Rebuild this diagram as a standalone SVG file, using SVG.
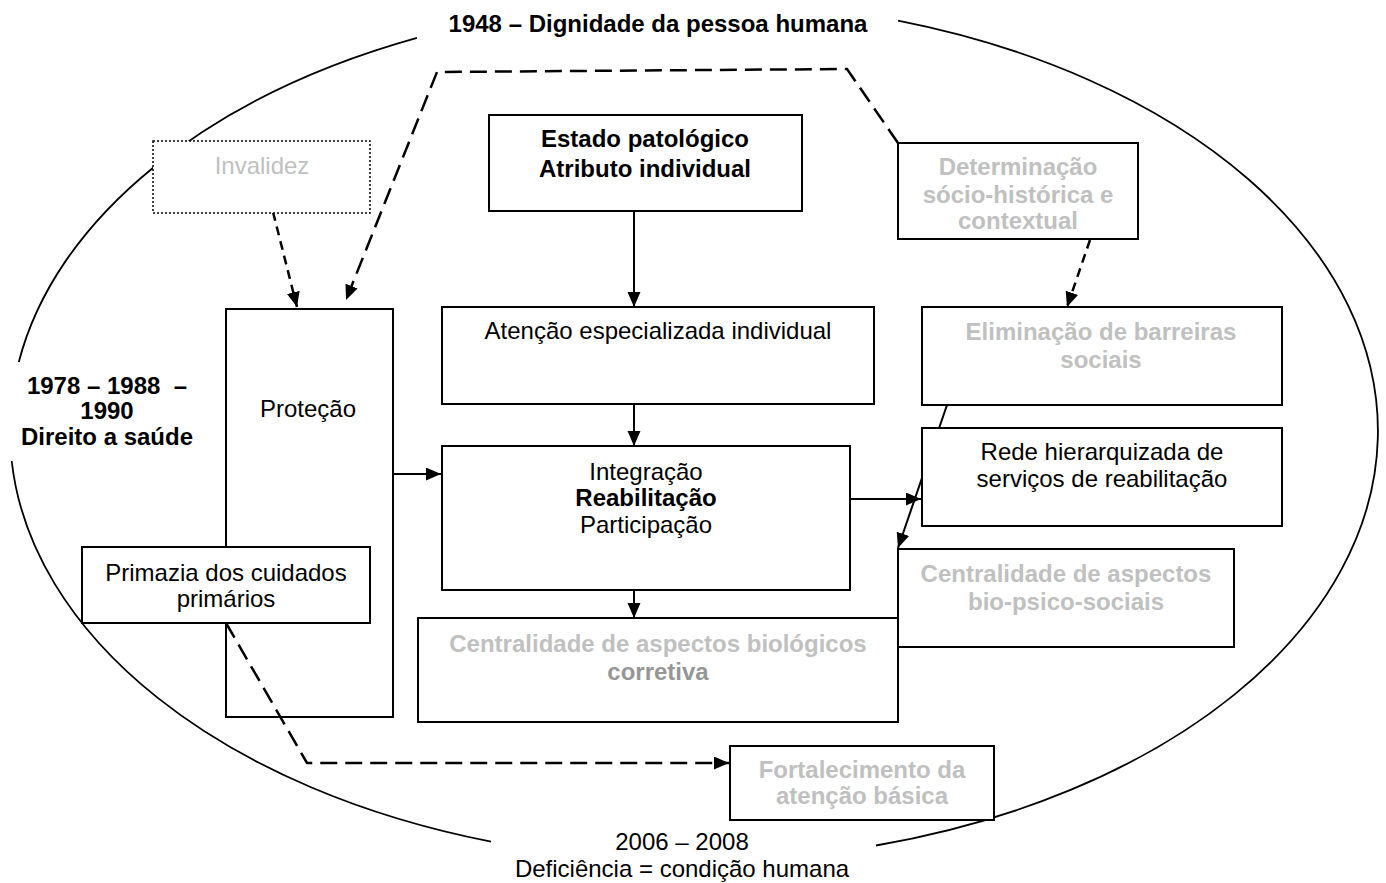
<svg xmlns="http://www.w3.org/2000/svg" width="1386" height="883" viewBox="0 0 1386 883">
<style>
text{font-family:"Liberation Sans",Arial,sans-serif;font-size:24px;text-anchor:middle;fill:#000}
.b{font-weight:bold}
.g{fill:#c0c0c0;font-weight:bold}
.box{fill:#fff;stroke:#000;stroke-width:2}
.ell{fill:none;stroke:#000;stroke-width:1.8}
.ln{fill:none;stroke:#000;stroke-width:2}
.dl{fill:none;stroke:#000;stroke-width:2.5;stroke-dasharray:17 8}
.ds{fill:none;stroke:#000;stroke-width:2.5;stroke-dasharray:9 6}
</style>
<defs>
<marker id="ah" markerUnits="userSpaceOnUse" markerWidth="16" markerHeight="14" refX="15" refY="6.5" orient="auto">
<path d="M0,0 L15,6.5 L0,13 z" fill="#000"/>
</marker>
</defs>
<g id="frame">
<path class="ell" d="M898,20.6 A684,430 0 0 1 876,845.5"/>
<path class="ell" d="M491,841.6 A684,430 0 0 1 11.7,461"/>
<path class="ell" d="M18.8,362 A684,430 0 0 1 417,37.8"/>
<text class="b" x="658" y="32">1948 – Dignidade da pessoa humana</text>
<text class="b" x="107" y="394" style="white-space:pre">1978 – 1988  –</text>
<text class="b" x="107" y="419">1990</text>
<text class="b" x="107" y="445">Direito a saúde</text>
<text x="682" y="850">2006 – 2008</text>
<text x="682" y="877">Deficiência = condição humana</text>
</g>
<g id="connectors">
<polyline class="dl" points="898,143 847,69 437,72 346,300" marker-end="url(#ah)"/>
<line class="ds" x1="273" y1="212" x2="297" y2="307" marker-end="url(#ah)"/>
<line class="ds" x1="1090" y1="240" x2="1067" y2="307" marker-end="url(#ah)"/>
<line class="ln" x1="634" y1="212" x2="634" y2="307" marker-end="url(#ah)"/>
<line class="ln" x1="634" y1="404" x2="634" y2="446" marker-end="url(#ah)"/>
<line class="ln" x1="634" y1="590" x2="634" y2="618" marker-end="url(#ah)"/>
<line class="ln" x1="393" y1="474" x2="441" y2="474" marker-end="url(#ah)"/>
<line class="ln" x1="850" y1="499" x2="921" y2="499" marker-end="url(#ah)"/>
<line class="ln" x1="947" y1="405" x2="898" y2="548" marker-end="url(#ah)"/>
<polyline class="dl" points="226,623 307,763 729,763" marker-end="url(#ah)"/>
</g>
<g id="n-invalidez">
<rect x="153" y="141" width="217" height="72" fill="#fff" stroke="#000" stroke-width="1.5" stroke-dasharray="2 2"/>
<text x="262" y="174" fill="#c0c0c0" style="fill:#c0c0c0">Invalidez</text>
</g>
<g id="n-protecao">
<rect x="226" y="309" width="167" height="408" fill="none" stroke="#000" stroke-width="2"/>
<text x="308" y="417">Proteção</text>
</g>
<g id="n-primazia">
<rect class="box" x="82" y="547" width="288" height="76"/>
<text x="226" y="581">Primazia dos cuidados</text>
<text x="226" y="607">primários</text>
</g>
<g id="n-estado">
<rect class="box" x="489" y="115" width="313" height="96"/>
<text class="b" x="645" y="147">Estado patológico</text>
<text class="b" x="645" y="177">Atributo individual</text>
</g>
<g id="n-atencao">
<rect class="box" x="442" y="307" width="432" height="97"/>
<text x="658" y="339">Atenção especializada individual</text>
</g>
<g id="n-integracao">
<rect class="box" x="442" y="446" width="408" height="144"/>
<text x="646" y="480">Integração</text>
<text class="b" x="646" y="506">Reabilitação</text>
<text x="646" y="533">Participação</text>
</g>
<g id="n-biologicos">
<rect class="box" x="418" y="618" width="480" height="104"/>
<text class="g" x="658" y="652">Centralidade de aspectos biológicos</text>
<text class="b" x="658" y="680" style="fill:#969696">corretiva</text>
</g>
<g id="n-determinacao">
<rect class="box" x="898" y="143" width="240" height="96"/>
<text class="g" x="1018" y="175">Determinação</text>
<text class="g" x="1018" y="203">sócio-histórica e</text>
<text class="g" x="1018" y="229">contextual</text>
</g>
<g id="n-eliminacao">
<rect class="box" x="922" y="307" width="360" height="98"/>
<text class="g" x="1101" y="340">Eliminação de barreiras</text>
<text class="g" x="1101" y="368">sociais</text>
</g>
<g id="n-rede">
<rect class="box" x="922" y="428" width="360" height="98"/>
<text x="1102" y="460">Rede hierarquizada de</text>
<text x="1102" y="487">serviços de reabilitação</text>
</g>
<g id="n-biopsico">
<rect class="box" x="898" y="549" width="336" height="98"/>
<text class="g" x="1066" y="582">Centralidade de aspectos</text>
<text class="g" x="1066" y="610">bio-psico-sociais</text>
</g>
<g id="n-fortalecimento">
<rect class="box" x="730" y="746" width="264" height="74"/>
<text class="g" x="862" y="778">Fortalecimento da</text>
<text class="g" x="862" y="804">atenção básica</text>
</g>
</svg>
